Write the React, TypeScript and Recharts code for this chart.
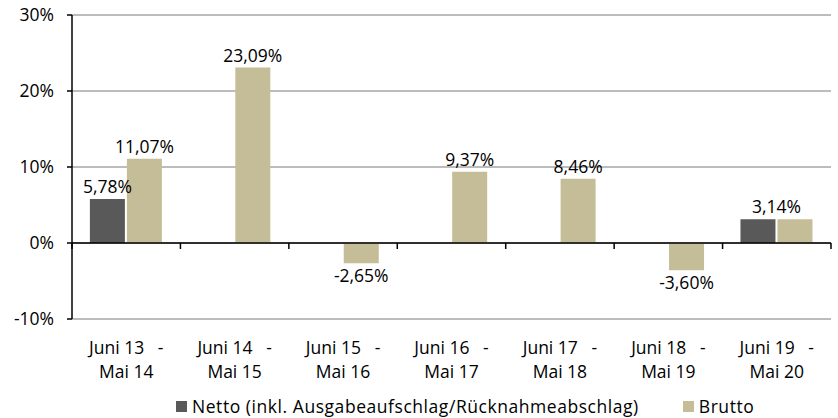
import React from "react";
import {
  BarChart,
  Bar,
  XAxis,
  YAxis,
  CartesianGrid,
  ReferenceLine,
  LabelList,
} from "recharts";

const categories = [
  "Juni 13  - Mai 14",
  "Juni 14  - Mai 15",
  "Juni 15  - Mai 16",
  "Juni 16  - Mai 17",
  "Juni 17  - Mai 18",
  "Juni 18  - Mai 19",
  "Juni 19  - Mai 20",
];
const netto = [5.78, null, null, null, null, null, 3.14];
const brutto = [11.07, 23.09, -2.65, 9.37, 8.46, -3.6, 3.14];
const yTicks = [-10, 0, 10, 20, 30];

const NETTO_NAME = "Netto (inkl. Ausgabeaufschlag/Rücknahmeabschlag)";
const BRUTTO_NAME = "Brutto";
const NETTO_COLOR = "#595959";
const BRUTTO_COLOR = "#c4bd97";
const FONT = "'Open Sans', sans-serif";
const FS = 17.5;
const BAR_GAP = 2;

const data = categories.map((c, i) => ({
  name: c,
  netto: netto[i],
  brutto: brutto[i],
}));

const fmt = (v: number) => v.toFixed(2).replace(".", ",") + "%";

// label content gets the category name, so values are looked up from the arrays
const ValueLabel = (props: any) => {
  const { x, y, width, height, value, series } = props;
  const i = categories.indexOf(value);
  if (i < 0) return null;
  const v = series === "netto" ? netto[i] : brutto[i];
  if (v == null) return null;
  const same = netto[i] != null && netto[i] === brutto[i];
  if (series === "brutto" && same) return null;
  const cx = series === "netto" && same ? x + width + BAR_GAP / 2 : x + width / 2;
  const top = Math.min(y, y + height);
  const bottom = Math.max(y, y + height);
  return (
    <text
      x={cx}
      y={v < 0 ? bottom + 19 : top - 6}
      textAnchor="middle"
      fontFamily={FONT}
      fontSize={FS}
      fill="#000"
    >
      {fmt(v)}
    </text>
  );
};

const CategoryTick = (props: any) => {
  const { x, y, payload } = props;
  const [a, b] = String(payload.value).split(" - ");
  return (
    <text
      x={x}
      y={y}
      textAnchor="middle"
      fontFamily={FONT}
      fontSize={FS}
      fill="#000"
      style={{ whiteSpace: "pre" }}
    >
      <tspan x={x} dy={27}>{a + "  -"}</tspan>
      <tspan x={x} dy={24}>{b}</tspan>
    </text>
  );
};

// zero line carries the category boundary tick marks, like the Excel original
const ZeroTicks = (props: any) => {
  const { viewBox } = props;
  if (!viewBox) return null;
  const { x, y, width } = viewBox;
  const n = categories.length;
  return (
    <g>
      {Array.from({ length: n + 1 }, (_, i) => {
        const tx = x + (width * i) / n;
        return <line key={i} x1={tx} x2={tx} y1={y} y2={y + 6} stroke="#000" strokeWidth={1.5} />;
      })}
    </g>
  );
};

const Legend = () => (
  <div
    style={{
      position: "absolute",
      left: 176,
      top: 396,
      display: "flex",
      gap: 44,
      fontFamily: FONT,
      fontSize: FS,
      letterSpacing: 0.55,
      lineHeight: "20px",
      color: "#000",
      whiteSpace: "nowrap",
    }}
  >
    {[
      [NETTO_NAME, NETTO_COLOR],
      [BRUTTO_NAME, BRUTTO_COLOR],
    ].map(([n, c]) => (
      <span key={n} style={{ display: "flex", alignItems: "center" }}>
        <span style={{ width: 11, height: 11, background: c, marginRight: 5, display: "inline-block" }} />
        {n}
      </span>
    ))}
  </div>
);

export default function App() {
  return (
    <div style={{ position: "absolute", left: 0, top: 0, width: 838, height: 418, background: "#fff", overflow: "hidden" }}>
      <BarChart
        width={838}
        height={418}
        data={data}
        margin={{ top: 15, right: 7, bottom: 39, left: 0 }}
        barCategoryGap="16.5%"
        barGap={BAR_GAP}
      >
        <CartesianGrid vertical={false} stroke="#a6a6a6" strokeWidth={1.3} />
        <XAxis
          dataKey="name"
          axisLine={false}
          tickLine={false}
          interval={0}
          height={60}
          tick={<CategoryTick />}
        />
        <YAxis
          width={72}
          domain={[-10, 30]}
          ticks={yTicks}
          tickFormatter={(v) => `${v}%`}
          axisLine={{ stroke: "#000", strokeWidth: 1.5 }}
          tickLine={{ stroke: "#000", strokeWidth: 1.5 }}
          tickSize={5}
          tickMargin={13}
          tick={{ fontFamily: FONT, fontSize: FS, fill: "#000" }}
          interval={0}
        />
        <Bar dataKey="netto" name={NETTO_NAME} fill={NETTO_COLOR} isAnimationActive={false}>
          <LabelList dataKey="name" content={<ValueLabel series="netto" />} />
        </Bar>
        <Bar dataKey="brutto" name={BRUTTO_NAME} fill={BRUTTO_COLOR} isAnimationActive={false}>
          <LabelList dataKey="name" content={<ValueLabel series="brutto" />} />
        </Bar>
        <ReferenceLine y={0} stroke="#000" strokeWidth={1.5} label={<ZeroTicks />} />
      </BarChart>
      <Legend />
    </div>
  );
}
